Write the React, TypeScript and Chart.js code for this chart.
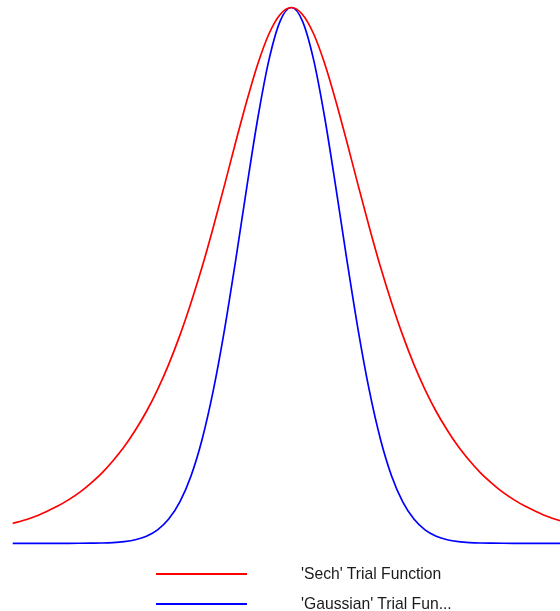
import React, { useEffect, useRef } from "react";
import { Chart, registerables } from "chart.js";

Chart.register(...registerables);

// x positions (dimensionless)
const xValues: number[] = [
  -4.0, -3.84, -3.68, -3.52, -3.36, -3.2, -3.04, -2.88, -2.72, -2.56,
  -2.4, -2.24, -2.08, -1.92, -1.76, -1.6, -1.44, -1.28, -1.12, -0.96,
  -0.8, -0.64, -0.48, -0.32, -0.16, 0.0, 0.16, 0.32, 0.48, 0.64,
  0.8, 0.96, 1.12, 1.28, 1.44, 1.6, 1.76, 1.92, 2.08, 2.24,
  2.4, 2.56, 2.72, 2.88, 3.04, 3.2, 3.36, 3.52, 3.68, 3.84, 4.0,
];

// 'Sech' trial function values
const sechValues: number[] = [
  0.037, 0.043, 0.050, 0.059, 0.069, 0.081, 0.095, 0.112, 0.131, 0.154,
  0.180, 0.211, 0.246, 0.287, 0.334, 0.388, 0.449, 0.516, 0.590, 0.668,
  0.748, 0.825, 0.895, 0.951, 0.987, 1.0, 0.987, 0.951, 0.895, 0.825,
  0.748, 0.668, 0.590, 0.516, 0.449, 0.388, 0.334, 0.287, 0.246, 0.211,
  0.180, 0.154, 0.131, 0.112, 0.095, 0.081, 0.069, 0.059, 0.050, 0.043, 0.037,
];

// 'Gaussian' trial function values
const gaussValues: number[] = [
  0.0, 0.0, 0.0, 0.0, 0.0, 0.0, 0.0001, 0.0003, 0.0006, 0.0014,
  0.0032, 0.0066, 0.0132, 0.0251, 0.0452, 0.0773, 0.1257, 0.1943, 0.2853, 0.3979,
  0.5273, 0.6639, 0.7942, 0.9027, 0.9747, 1.0, 0.9747, 0.9027, 0.7942, 0.6639,
  0.5273, 0.3979, 0.2853, 0.1943, 0.1257, 0.0773, 0.0452, 0.0251, 0.0132, 0.0066,
  0.0032, 0.0014, 0.0006, 0.0003, 0.0001, 0.0, 0.0, 0.0, 0.0, 0.0, 0.0,
];

const seriesLabels: string[] = ["'Sech' Trial Function", "'Gaussian' Trial Fun..."];
const seriesColors: string[] = ["#ff0000", "#0000ff"];

export default function App() {
  const canvasRef = useRef<HTMLCanvasElement | null>(null);

  useEffect(() => {
    const canvas = canvasRef.current;
    if (!canvas) return;
    const chart = new Chart(canvas, {
      type: "line",
      data: {
        datasets: [
          {
            label: seriesLabels[0],
            data: xValues.map((x, i) => ({ x, y: sechValues[i] })),
            borderColor: seriesColors[0],
            borderWidth: 1.7,
            pointRadius: 0,
            cubicInterpolationMode: "monotone",
            fill: false,
            clip: 10,
          },
          {
            label: seriesLabels[1],
            data: xValues.map((x, i) => ({ x, y: gaussValues[i] })),
            borderColor: seriesColors[1],
            borderWidth: 1.7,
            pointRadius: 0,
            cubicInterpolationMode: "monotone",
            fill: false,
            clip: 10,
          },
        ],
      },
      options: {
        animation: false,
        responsive: false,
        devicePixelRatio: 1,
        layout: { padding: { left: 12.7, right: 30.1, top: 7.5, bottom: 67.7 } },
        plugins: { legend: { display: false }, tooltip: { enabled: false } },
        scales: {
          x: { type: "linear", min: -4, max: 4, display: false },
          y: { type: "linear", min: 0, max: 1, display: false },
        },
      },
    });
    return () => chart.destroy();
  }, []);

  const textStyle: React.CSSProperties = {
    position: "absolute",
    left: 301,
    fontFamily: "'Liberation Sans', Arial, sans-serif",
    fontSize: "15.7px",
    lineHeight: "20px",
    color: "#1a1a1a",
    whiteSpace: "nowrap",
  };

  return (
    <div
      style={{
        position: "fixed",
        left: 0,
        top: 0,
        width: 560,
        height: 611,
        overflow: "hidden",
        background: "#ffffff",
      }}
    >
      <canvas
        ref={canvasRef}
        width={600}
        height={611}
        style={{ position: "absolute", left: 0, top: 0, width: 600, height: 611, display: "block" }}
      />
      <div style={{ position: "absolute", left: 156, top: 573, width: 91, height: 2, background: seriesColors[0] }} />
      <div style={{ position: "absolute", left: 156, top: 603, width: 91, height: 2, background: seriesColors[1] }} />
      <div style={{ ...textStyle, top: 564 }}>{seriesLabels[0]}</div>
      <div style={{ ...textStyle, top: 594 }}>{seriesLabels[1]}</div>
    </div>
  );
}
